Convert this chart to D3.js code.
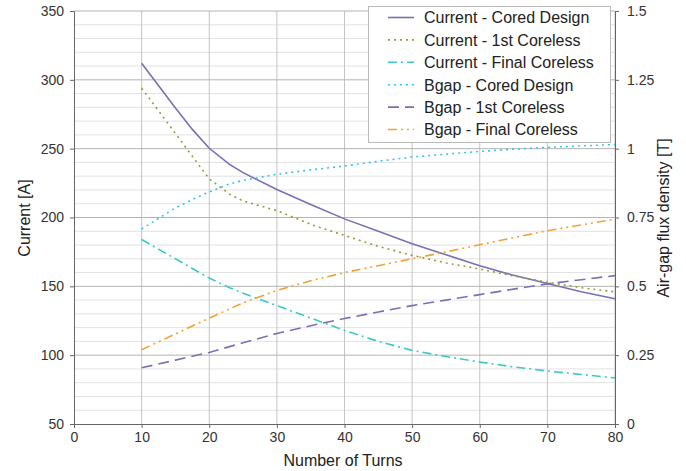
<!DOCTYPE html>
<html><head><meta charset="utf-8">
<script src="https://cdn.jsdelivr.net/npm/d3@7"></script>
<style>body{margin:0;background:#fff}svg{font-family:"Liberation Sans",Arial,sans-serif}</style>
</head><body><svg id="c" width="686" height="471"></svg>
<script>
const turns = [10, 15, 17.5, 20, 23, 25, 30, 35, 40, 45, 50, 55, 60, 65, 70, 75, 80];
const currentCored = [312, 279.5, 264, 250.3, 238.6, 232.6, 220.3, 209.5, 199, 190, 181, 173, 165, 158, 152, 146, 141];
const current1st = [294, 261, 244.5, 228, 217, 212, 205, 195, 187, 179, 172.5, 167, 162.6, 157.5, 153, 149, 146];
const currentFinal = [184, 170, 163, 156, 149, 145, 136, 127, 118, 110, 103.5, 99, 95, 91.5, 88.5, 86, 83.5];
const bgapCored = [0.708, 0.785, 0.815, 0.843, 0.872, 0.885, 0.907, 0.923, 0.937, 0.954, 0.97, 0.98, 0.99, 0.998, 1.005, 1.01, 1.015];
const bgap1st = [0.204, 0.232, 0.246, 0.26, 0.281, 0.295, 0.329, 0.357, 0.383, 0.407, 0.43, 0.45, 0.47, 0.49, 0.509, 0.524, 0.539];
const bgapFinal = [0.27, 0.327, 0.356, 0.384, 0.418, 0.44, 0.485, 0.52, 0.55, 0.575, 0.6, 0.625, 0.651, 0.677, 0.702, 0.723, 0.744];
const leftTicks = [50, 100, 150, 200, 250, 300, 350];
const rightTicks = [0, 0.25, 0.5, 0.75, 1, 1.25, 1.5];
const xTicks = [0, 10, 20, 30, 40, 50, 60, 70, 80];
const seriesNames = ["Current - Cored Design", "Current - 1st Coreless", "Current - Final Coreless",
  "Bgap - Cored Design", "Bgap - 1st Coreless", "Bgap - Final Coreless"];

const L = 74, R = 615, T = 11, B = 424;
const svg = d3.select("#c");
const x = d3.scaleLinear().domain([0, 80]).range([L, R]);
const yL = d3.scaleLinear().domain([50, 350]).range([B, T]);
const yR = d3.scaleLinear().domain([0, 1.5]).range([B, T]);

// grid
const g = svg.append("g");
g.selectAll(".hm").data(d3.range(50, 351, 10).filter(v => v % 50 !== 0)).join("line")
  .attr("x1", L).attr("x2", R).attr("y1", d => yL(d)).attr("y2", d => yL(d))
  .attr("stroke", "#e2e2e2").attr("stroke-width", 1);
g.selectAll(".vg").data(xTicks.slice(1)).join("line")
  .attr("x1", d => x(d)).attr("x2", d => x(d)).attr("y1", T).attr("y2", B)
  .attr("stroke", "#c4c4c4").attr("stroke-width", 1);
g.selectAll(".hM").data(leftTicks.slice(1)).join("line")
  .attr("x1", L).attr("x2", R).attr("y1", d => yL(d)).attr("y2", d => yL(d))
  .attr("stroke", "#b4b4b4").attr("stroke-width", 1);

// axes
const axL = svg.append("g").attr("transform", `translate(${L},0)`)
  .call(d3.axisLeft(yL).tickValues(leftTicks).tickSize(4).tickPadding(6));
const axR = svg.append("g").attr("transform", `translate(${R},0)`)
  .call(d3.axisRight(yR).tickValues(rightTicks).tickFormat(d => String(d)).tickSize(4).tickPadding(8));
const axB = svg.append("g").attr("transform", `translate(0,${B})`)
  .call(d3.axisBottom(x).tickValues(xTicks).tickSize(4).tickPadding(4));
[axL, axR, axB].forEach(a => {
  a.select(".domain").attr("stroke", "#666");
  a.selectAll(".tick line").attr("stroke", "#666");
  a.selectAll("text").attr("font-size", 14).attr("fill", "#333")
    .attr("font-family", "'Liberation Sans',Arial,sans-serif");
});

// titles
svg.append("text").attr("x", 343).attr("y", 466).attr("text-anchor", "middle")
  .attr("font-size", 16).attr("fill", "#222").text("Number of Turns");
svg.append("text").attr("transform", "translate(30,218) rotate(-90)").attr("text-anchor", "middle")
  .attr("font-size", 16).attr("fill", "#222").text("Current [A]");
svg.append("text").attr("transform", "translate(669,218) rotate(-90)").attr("text-anchor", "middle")
  .attr("font-size", 16).attr("fill", "#222").text("Air-gap flux density [T]");

const series = [
  {name: seriesNames[0], vals: currentCored, y: yL, color: "#7373b3", dash: null},
  {name: seriesNames[1], vals: current1st, y: yL, color: "#9a9a3a", dash: "2,4"},
  {name: seriesNames[2], vals: currentFinal, y: yL, color: "#3dc9c3", dash: "9,4,2,4"},
  {name: seriesNames[3], vals: bgapCored, y: yR, color: "#33c6ee", dash: "2,4"},
  {name: seriesNames[4], vals: bgap1st, y: yR, color: "#7373b3", dash: "11,6"},
  {name: seriesNames[5], vals: bgapFinal, y: yR, color: "#f2a232", dash: "9,4,2,4,2,4"}
];
series.forEach(s => {
  const line = d3.line().x((d, i) => x(turns[i])).y(d => s.y(d));
  svg.append("path").datum(s.vals).attr("d", line).attr("fill", "none")
    .attr("stroke", s.color).attr("stroke-width", 1.6)
    .attr("stroke-dasharray", s.dash);
});

// legend
const lg = svg.append("g");
lg.append("rect").attr("x", 368.5).attr("y", 6.5).attr("width", 242).attr("height", 136)
  .attr("fill", "#fff").attr("stroke", "#bbb");
series.forEach((s, i) => {
  const yy = 17.5 + i * 22.4;
  lg.append("line").attr("x1", 388).attr("x2", 414).attr("y1", yy).attr("y2", yy)
    .attr("stroke", s.color).attr("stroke-width", 1.6).attr("stroke-dasharray", s.dash);
  lg.append("text").attr("x", 424).attr("y", yy + 5.8).attr("font-size", 16).attr("fill", "#222")
    .text(s.name);
});
</script></body></html>
